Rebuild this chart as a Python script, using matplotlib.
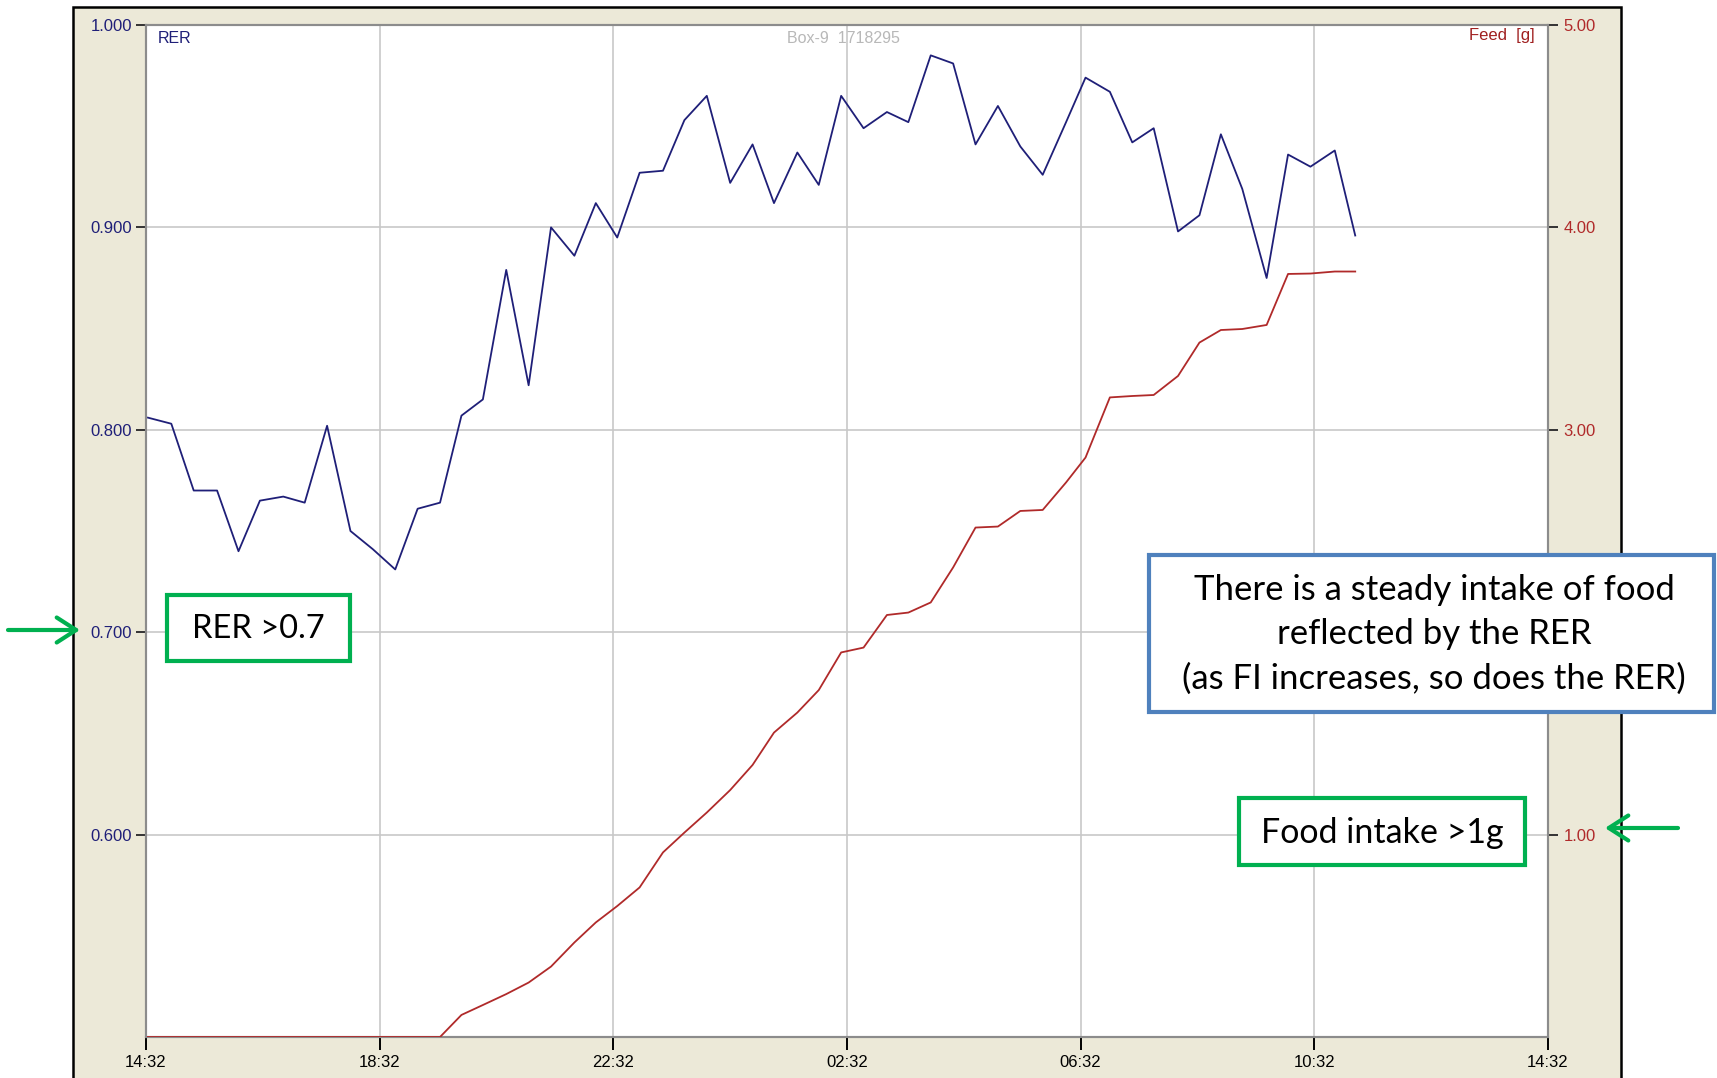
import matplotlib.pyplot as plt
from matplotlib.patches import Rectangle, FancyArrowPatch
import numpy as np

plt.rcParams['font.family'] = ['Liberation Sans', 'DejaVu Sans']

W, H = 1717, 1078

# Sample times (minutes after 14:32), RER and cumulative feed [g]
sample_min = [2, 26, 49, 73, 95, 117, 141, 163, 186, 210,
              233, 256, 279, 302, 324, 346, 370, 393, 416, 440,
              462, 484, 507, 531, 553, 576, 600, 623, 645, 669,
              691, 714, 737, 761, 783, 806, 829, 852, 875, 898,
              921, 945, 965, 990, 1013, 1035, 1060, 1082, 1104, 1126,
              1151, 1173, 1196, 1221, 1242]
rer = [0.806, 0.803, 0.770, 0.770, 0.740, 0.765, 0.767, 0.764, 0.802, 0.750,
       0.741, 0.731, 0.761, 0.764, 0.807, 0.815, 0.879, 0.822, 0.900, 0.886,
       0.912, 0.895, 0.927, 0.928, 0.953, 0.965, 0.922, 0.941, 0.912, 0.937,
       0.921, 0.965, 0.949, 0.957, 0.952, 0.985, 0.981, 0.941, 0.960, 0.940,
       0.926, 0.952, 0.974, 0.967, 0.942, 0.949, 0.898, 0.906, 0.946, 0.919,
       0.875, 0.936, 0.930, 0.938, 0.896]
feed = [0.0] * 13 + [
    0.0, 0.109, 0.158, 0.212, 0.269, 0.348, 0.467, 0.566, 0.647, 0.739,
    0.912, 1.010, 1.109, 1.220, 1.344, 1.504, 1.603, 1.714, 1.900, 1.924,
    2.085, 2.097, 2.147, 2.320, 2.517, 2.522, 2.599, 2.604, 2.740, 2.863,
    3.160, 3.167, 3.172, 3.266, 3.431, 3.493, 3.498, 3.518, 3.770, 3.772,
    3.782, 3.782]

time_ticks = [0, 4, 8, 12, 16, 20, 24]
time_labels = ['14:32', '18:32', '22:32', '02:32', '06:32', '10:32', '14:32']
rer_ticks = [0.6, 0.7, 0.8, 0.9, 1.0]
feed_ticks = [1, 2, 3, 4, 5]

NAVY = '#1f1f78'
RED = '#b02a2a'
GREEN = '#00b050'
BLUE = '#4f81bd'


def fx(x):
    return x / W


def fy(y):
    return 1 - y / H


fig = plt.figure(figsize=(W / 100, H / 100), dpi=100)
fig.patch.set_facecolor('white')

# beige window panel behind the plot
fig.patches.append(Rectangle((fx(73), -0.05), fx(1621) - fx(73), fy(7) + 0.05,
                             transform=fig.transFigure, facecolor='#ece9d8',
                             edgecolor='black', lw=1.8, zorder=-10))

ax = fig.add_axes([fx(146), fy(1037), fx(1548) - fx(146), fy(25) - fy(1037)])
ax.set_facecolor('white')
hours = np.array(sample_min) / 60.0
ax.plot(hours, rer, color=NAVY, lw=1.3, zorder=3)
ax.set_xlim(0, 24)
ax.set_ylim(0.5, 1.0)
ax.set_xticks(time_ticks)
ax.set_xticklabels(time_labels)
ax.set_yticks(rer_ticks)
ax.set_yticklabels(['%.3f' % v for v in rer_ticks])
ax.grid(True, color='#c8c8c8', lw=1.2)
ax.set_axisbelow(True)
ax.tick_params(axis='x', length=9, width=1.4, pad=4, labelsize=12, colors='black')
ax.tick_params(axis='y', length=7, width=1.4, pad=3, labelsize=12,
               labelcolor=NAVY, color='#333333')

ax2 = ax.twinx()
ax2.plot(hours, feed, color=RED, lw=1.3, zorder=3)
ax2.set_ylim(0, 5)
ax2.set_yticks(feed_ticks)
ax2.set_yticklabels(['%.2f' % v for v in feed_ticks])
ax2.tick_params(axis='y', length=7, width=1.4, pad=4, labelsize=12,
                labelcolor=RED, color='#333333')

for a in (ax, ax2):
    for s in a.spines.values():
        s.set_color('#8c8c8c')
        s.set_linewidth(1.5)

fig.text(fx(158), fy(31), 'RER', color=NAVY, fontsize=11.5, va='top')
fig.text(fx(1535), fy(28), 'Feed  [g]', color='#a02020', fontsize=12,
         va='top', ha='right')
fig.text(fx(787), fy(31), 'Box-9  1718295', color='#b8b8b8', fontsize=11.5,
         va='top')

# callout boxes
callouts = [
    ((167, 595, 350, 661), GREEN, 'RER >0.7', (258, 629), 23.5),
    ((1149, 555, 1714, 712), BLUE,
     'There is a steady intake of food\nreflected by the RER\n(as FI increases, so does the RER)',
     (1434, 634), 25),
    ((1239, 798, 1525, 865), GREEN, 'Food intake >1g', (1382, 833), 24.5),
]
for (x0, y0, x1, y1), col, txt, (tx, ty), size in callouts:
    fig.patches.append(Rectangle((fx(x0), fy(y1)), fx(x1) - fx(x0), fy(y0) - fy(y1),
                                 transform=fig.transFigure, facecolor='white',
                                 edgecolor=col, lw=3, zorder=5))
    fig.text(fx(tx), fy(ty), txt, fontsize=size, family='Lato', color='black',
             ha='center', va='center', linespacing=1.47, zorder=6)

# arrows pointing at the 0.700 and 1.00 ticks
for (xa, ya), (xb, yb) in [((8, 630), (80, 630)), ((1678, 828), (1605, 828))]:
    fig.patches.append(FancyArrowPatch((fx(xa), fy(ya)), (fx(xb), fy(yb)),
                                       transform=fig.transFigure,
                                       arrowstyle='->,head_length=0.7,head_width=0.45',
                                       mutation_scale=20, lw=3, color=GREEN,
                                       shrinkA=0, shrinkB=0, zorder=6))

fig.savefig('out.png', dpi=100)
